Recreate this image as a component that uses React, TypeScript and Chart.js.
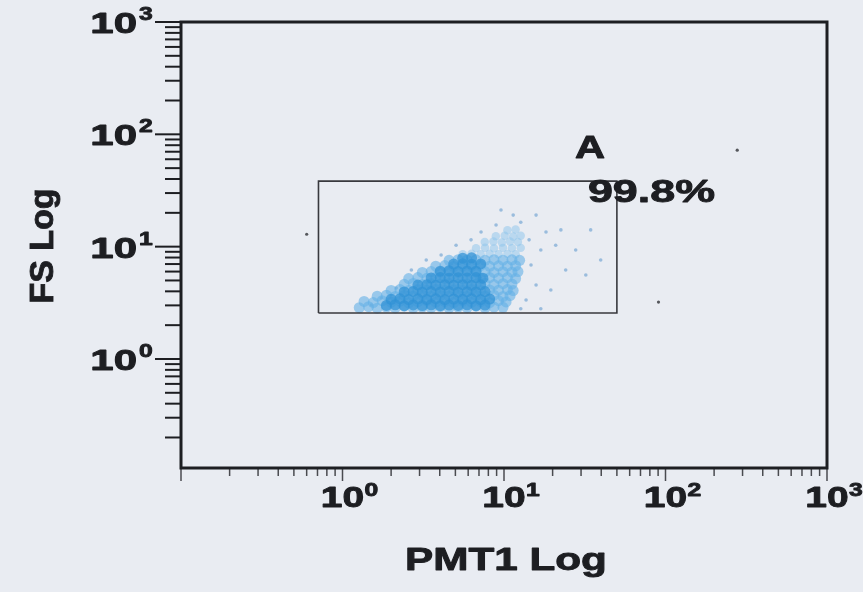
import React, { useEffect, useRef } from 'react';
import { Chart, registerables } from 'chart.js';

Chart.register(...registerables);

// ---- axes ----
const X_MIN = 0.1;
const X_MAX = 1000;
const Y_MIN = 0.107;
const Y_MAX = 1000;
const tickDecades = [0.1, 1, 10, 100];
const tickSignificands = [1, 2, 3, 4, 5, 6, 7, 8, 9];
const xLabelDecades = [1, 10, 100, 1000];
const yLabelDecades = [1, 10, 100, 1000];
const xAxisTitle = 'PMT1 Log';
const yAxisTitle = 'FS Log';

// ---- gate ----
const gateCorners = [[0.71, 2.57], [0.71, 38.3], [50, 38.3], [50, 2.57], [0.71, 2.57]];
const gateName = 'A';
const gatePercent = '99.8%';
const gateNameAt = [27.5, 61.5];
const gatePercentAt = [33.1, 25.0];

// ---- events (PMT1, FS) ----
const mainEvents = [
  [1.27, 2.86], [1.45, 2.92], [1.64, 2.83], [1.87, 2.9], [2.12, 2.85], [2.41, 2.95], [2.74, 2.84], [3.12, 2.9], [3.54, 2.86], [4.03, 2.93], [4.57, 2.84], [5.2, 2.9], [5.91, 2.86], [6.71, 2.95], [7.63, 2.85], [8.67, 2.9], [9.86, 2.88],
  [1.36, 3.25], [1.55, 3.18], [1.76, 3.3], [2.0, 3.2], [2.27, 3.27], [2.57, 3.16], [2.93, 3.24], [3.33, 3.3], [3.78, 3.2], [4.3, 3.26], [4.88, 3.18], [5.55, 3.28], [6.3, 3.2], [7.17, 3.25], [8.15, 3.17], [9.25, 3.3], [10.3, 3.22],
  [1.64, 3.62], [1.87, 3.7], [2.12, 3.6], [2.41, 3.68], [2.74, 3.62], [3.12, 3.7], [3.54, 3.6], [4.03, 3.66], [4.57, 3.62], [5.2, 3.7], [5.91, 3.6], [6.71, 3.68], [7.63, 3.62], [8.67, 3.7], [9.86, 3.6], [10.9, 3.66],
  [2.0, 4.08], [2.27, 4.15], [2.57, 4.06], [2.93, 4.14], [3.33, 4.1], [3.78, 4.16], [4.3, 4.06], [4.88, 4.12], [5.55, 4.08], [6.3, 4.16], [7.17, 4.05], [8.15, 4.12], [9.25, 4.1], [10.5, 4.15], [11.4, 4.06],
  [2.41, 4.62], [2.74, 4.7], [3.12, 4.6], [3.54, 4.68], [4.03, 4.64], [4.57, 4.7], [5.2, 4.6], [5.91, 4.66], [6.71, 4.62], [7.63, 4.7], [8.67, 4.6], [9.86, 4.68], [11.2, 4.64],
  [2.57, 5.2], [2.93, 5.3], [3.33, 5.22], [3.78, 5.3], [4.3, 5.24], [4.88, 5.3], [5.55, 5.2], [6.3, 5.28], [7.17, 5.22], [8.15, 5.3], [9.25, 5.24], [10.5, 5.3], [11.8, 5.2],
  [3.12, 5.9], [3.54, 6.0], [4.03, 5.92], [4.57, 5.98], [5.2, 5.9], [5.91, 5.96], [6.71, 5.92], [7.63, 6.0], [8.67, 5.9], [9.86, 5.98], [11.2, 5.92], [12.2, 6.0],
  [3.78, 6.7], [4.3, 6.78], [4.88, 6.66], [5.55, 6.76], [6.3, 6.7], [7.17, 6.78], [8.15, 6.68], [9.25, 6.75], [10.5, 6.7], [11.8, 6.76],
  [4.57, 7.56], [5.2, 7.66], [5.91, 7.58], [6.71, 7.64], [7.63, 7.56], [8.67, 7.66], [9.86, 7.58], [11.2, 7.64], [12.5, 7.56],
];
const fringeEvents = [
  [5.55, 8.55], [6.3, 8.65], [7.17, 8.56], [8.15, 8.64], [9.25, 8.55], [10.5, 8.62], [11.8, 8.56],
  [6.71, 9.7], [7.63, 9.78], [8.67, 9.66], [9.86, 9.76], [11.2, 9.7], [12.7, 9.75],
  [7.6, 11.0], [8.6, 11.1], [9.7, 10.9], [10.9, 11.1], [12.2, 11.0],
  [8.9, 12.4], [10.1, 12.5], [11.4, 12.3], [12.7, 12.5],
  [10.5, 14.0], [11.8, 14.2],
];
const denseEvents = [
  [1.87, 3.0], [2.12, 3.04], [2.41, 2.98], [2.74, 3.03], [3.12, 2.99], [3.54, 3.04], [4.03, 2.98], [4.57, 3.02], [5.2, 3.0], [5.91, 3.04], [6.71, 2.98], [7.63, 3.02],
  [2.0, 3.4], [2.27, 3.44], [2.57, 3.38], [2.93, 3.43], [3.33, 3.39], [3.78, 3.44], [4.3, 3.38], [4.88, 3.42], [5.55, 3.4], [6.3, 3.44], [7.17, 3.38], [8.15, 3.42],
  [2.41, 3.95], [2.74, 3.99], [3.12, 3.93], [3.54, 3.98], [4.03, 3.94], [4.57, 3.99], [5.2, 3.93], [5.91, 3.97], [6.71, 3.95], [7.63, 3.98],
  [2.93, 4.55], [3.33, 4.59], [3.78, 4.53], [4.3, 4.58], [4.88, 4.54], [5.55, 4.59], [6.3, 4.53], [7.17, 4.57],
  [3.54, 5.26], [4.03, 5.3], [4.57, 5.24], [5.2, 5.29], [5.91, 5.25], [6.71, 5.3], [7.4, 5.24],
  [4.03, 6.05], [4.57, 6.1], [5.2, 6.02], [5.91, 6.08], [6.71, 6.04],
  [4.88, 6.99], [5.55, 7.04], [6.3, 6.97], [7.17, 7.02],
  [5.55, 7.9], [6.3, 7.95],
];
const sparseEvents = [
  [13.7, 3.35], [15.8, 4.55], [14.7, 6.86], [16.9, 9.33], [14.3, 11.5], [18.2, 13.5], [12.7, 16.5], [15.8, 19.1],
  [20.9, 10.3], [24.1, 6.19], [19.5, 4.11], [11.4, 19.1], [8.93, 15.6], [7.21, 13.5], [6.25, 11.5], [22.5, 14.1],
  [27.8, 9.33], [32.1, 5.59], [16.9, 2.8], [12.7, 2.8], [9.58, 21.2], [5.05, 10.3], [4.08, 8.42], [3.3, 7.6],
  [2.67, 6.19], [2.15, 4.28], [1.74, 3.49], [1.51, 3.02], [39.7, 7.6], [34.4, 14.1],
];
const strayEvents = [[0.6, 12.9], [278, 72.3], [90.5, 3.21]];

// ---- styles ----
const PAGE_BG = '#e9ecf2';
const INK = '#1d1e22';
const FONT = '"Liberation Sans", Arial, Helvetica, sans-serif';

const toXY = (pts: number[][]) => pts.map(([x, y]) => ({ x, y }));

function buildTicks(min: number, max: number) {
  const out: { value: number; major: boolean }[] = [];
  tickDecades.forEach((d) => {
    tickSignificands.forEach((s) => {
      const v = parseFloat((d * s).toPrecision(3));
      if (v >= min * 0.999 && v <= max * 1.001) out.push({ value: v, major: s === 1 });
    });
  });
  if (max >= 1000) out.push({ value: 1000, major: true });
  return out;
}

function stretchedText(
  ctx: CanvasRenderingContext2D,
  text: string,
  x: number,
  y: number,
  size: number,
  sx: number,
  align: CanvasTextAlign
) {
  ctx.save();
  ctx.translate(x, y);
  ctx.scale(sx, 1);
  ctx.font = `bold ${size}px ${FONT}`;
  ctx.textAlign = align;
  ctx.textBaseline = 'alphabetic';
  ctx.fillStyle = INK;
  ctx.strokeStyle = INK;
  ctx.lineWidth = 0.9;
  ctx.lineJoin = 'round';
  ctx.fillText(text, 0, 0);
  ctx.strokeText(text, 0, 0);
  ctx.restore();
}

const decorPlugin = {
  id: 'decor',
  beforeDraw(chart: any) {
    const { ctx, width, height } = chart;
    ctx.save();
    ctx.fillStyle = PAGE_BG;
    ctx.fillRect(0, 0, width, height);
    ctx.restore();
  },
  afterDraw(chart: any) {
    const ctx: CanvasRenderingContext2D = chart.ctx;
    const a = chart.chartArea;
    const xs = chart.scales.x;
    const ys = chart.scales.y;
    ctx.save();

    // y ticks (outside, left)
    ctx.strokeStyle = INK;
    ctx.lineWidth = 2;
    ys.ticks.forEach((t: any) => {
      const py = ys.getPixelForValue(t.value);
      const len = t.major ? 26 : 16;
      ctx.beginPath();
      ctx.moveTo(a.left - len, py);
      ctx.lineTo(a.left, py);
      ctx.stroke();
    });

    // x ticks (outside, below)
    ctx.strokeStyle = '#4a4b50';
    ctx.lineWidth = 1.5;
    xs.ticks.forEach((t: any) => {
      const px = xs.getPixelForValue(t.value);
      const len = t.major ? 13 : 8;
      ctx.beginPath();
      ctx.moveTo(px, a.bottom);
      ctx.lineTo(px, a.bottom + len);
      ctx.stroke();
    });

    // frame
    ctx.strokeStyle = INK;
    ctx.lineWidth = 3;
    ctx.strokeRect(a.left, a.top, a.right - a.left, a.bottom - a.top);

    // y tick labels
    yLabelDecades.forEach((v) => {
      const py = ys.getPixelForValue(v);
      const exp = String(Math.round(Math.log10(v)));
      stretchedText(ctx, '10', 137, py + 11, 30, 1.4, 'right');
      stretchedText(ctx, exp, 139, py - 2, 19, 1.3, 'left');
    });

    // x tick labels
    xLabelDecades.forEach((v) => {
      const px = xs.getPixelForValue(v);
      const exp = String(Math.round(Math.log10(v)));
      stretchedText(ctx, '10', px, a.bottom + 39, 30, 1.3, 'center');
      stretchedText(ctx, exp, px + 22, a.bottom + 28, 19, 1.3, 'left');
    });

    // axis titles
    stretchedText(ctx, xAxisTitle, (a.left + a.right) / 2 + 2, 570, 32, 1.32, 'center');
    ctx.save();
    ctx.translate(53, (a.top + a.bottom) / 2 + 1);
    ctx.rotate(-Math.PI / 2);
    ctx.font = `bold 34px ${FONT}`;
    ctx.textAlign = 'center';
    ctx.textBaseline = 'alphabetic';
    ctx.fillStyle = INK;
    ctx.strokeStyle = INK;
    ctx.lineWidth = 0.9;
    ctx.fillText(yAxisTitle, 0, 0);
    ctx.strokeText(yAxisTitle, 0, 0);
    ctx.restore();

    // gate annotation
    stretchedText(ctx, gateName, xs.getPixelForValue(gateNameAt[0]), ys.getPixelForValue(gateNameAt[1]), 32, 1.3, 'left');
    stretchedText(ctx, gatePercent, xs.getPixelForValue(gatePercentAt[0]), ys.getPixelForValue(gatePercentAt[1]), 32, 1.4, 'left');

    ctx.restore();
  },
};

export default function App() {
  const ref = useRef<HTMLCanvasElement>(null);

  useEffect(() => {
    const canvas = ref.current;
    if (!canvas) return;
    const pointSet = (label: string, pts: number[][], color: string, radius: number, order: number) => ({
      label,
      data: toXY(pts),
      pointRadius: radius,
      pointHoverRadius: radius,
      pointBackgroundColor: color,
      pointBorderWidth: 0,
      pointBorderColor: 'transparent',
      showLine: false,
      order,
    });
    const chart = new Chart(canvas, {
      type: 'scatter',
      data: {
        datasets: [
          {
            label: 'Gate A',
            data: toXY(gateCorners),
            showLine: true,
            borderColor: '#38393e',
            borderWidth: 1.6,
            pointRadius: 0,
            pointHoverRadius: 0,
            fill: false,
            tension: 0,
            order: 0,
          } as any,
          pointSet('stray', strayEvents, '#55575c', 1.6, 1),
          pointSet('dense', denseEvents, 'rgba(48,146,214,0.72)', 5.5, 2),
          pointSet('main', mainEvents, 'rgba(100,176,230,0.6)', 5.5, 3),
          pointSet('fringe', fringeEvents, 'rgba(140,196,236,0.5)', 4.2, 4),
          pointSet('sparse', sparseEvents, 'rgba(120,168,212,0.7)', 1.8, 5),
        ],
      },
      options: {
        responsive: false,
        animation: false,
        events: [],
        layout: { padding: { top: 22, right: 36, left: 0, bottom: 0 } },
        plugins: {
          legend: { display: false },
          tooltip: { enabled: false },
          title: { display: false },
        },
        scales: {
          x: {
            type: 'logarithmic',
            min: X_MIN,
            max: X_MAX,
            ticks: { display: false },
            grid: { display: false },
            border: { display: false },
            afterBuildTicks: (s: any) => {
              s.ticks = buildTicks(X_MIN, X_MAX);
            },
            afterFit: (s: any) => {
              s.height = 124;
            },
          },
          y: {
            type: 'logarithmic',
            min: Y_MIN,
            max: Y_MAX,
            ticks: { display: false },
            grid: { display: false },
            border: { display: false },
            afterBuildTicks: (s: any) => {
              s.ticks = buildTicks(Y_MIN, Y_MAX);
            },
            afterFit: (s: any) => {
              s.width = 181;
            },
          },
        },
      } as any,
      plugins: [decorPlugin],
    });
    return () => chart.destroy();
  }, []);

  return (
    <div style={{ position: 'absolute', left: 0, top: 0, width: 863, height: 592 }}>
      <canvas ref={ref} width={863} height={592} style={{ display: 'block' }} />
    </div>
  );
}
